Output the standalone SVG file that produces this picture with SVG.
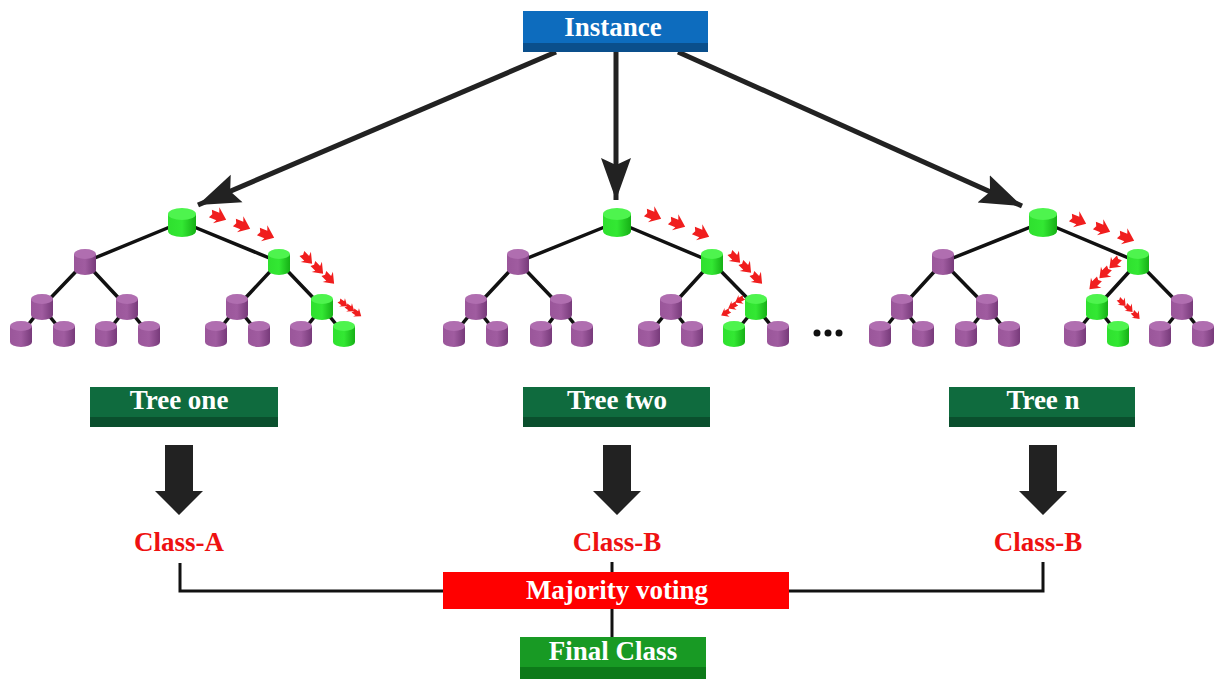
<svg xmlns="http://www.w3.org/2000/svg" xmlns:xlink="http://www.w3.org/1999/xlink" width="1215" height="679" viewBox="0 0 1215 679">
<style>
.lbl{font-family:"Liberation Serif","Times New Roman",serif;font-weight:bold;font-size:27px;fill:#ffffff;text-anchor:middle}
.cls{font-family:"Liberation Serif","Times New Roman",serif;font-weight:bold;font-size:27px;fill:#ee1111;text-anchor:middle}
.edge{stroke:#111;stroke-width:3.5;fill:none}
.conn{stroke:#111;stroke-width:3;fill:none}
.big{stroke:#222;stroke-width:5;fill:none}
.down{fill:#222}
</style>
<defs>
<linearGradient id="gp" x1="0" x2="1" y1="0" y2="0">
<stop offset="0" stop-color="#9a569a"/><stop offset="0.5" stop-color="#a05ca0"/><stop offset="1" stop-color="#773a7a"/>
</linearGradient>
<linearGradient id="gg" x1="0" x2="1" y1="0" y2="0">
<stop offset="0" stop-color="#2fe02f"/><stop offset="0.5" stop-color="#33e833"/><stop offset="1" stop-color="#16b016"/>
</linearGradient>
<g id="pc">
<path d="M-11,-8 L-11,8 A11,5 0 0 0 11,8 L11,-8 Z" fill="url(#gp)"/>
<ellipse cx="0" cy="-8" rx="11" ry="5" fill="#b06eb0"/>
</g>
<g id="gc">
<path d="M-11,-8 L-11,8 A11,5 0 0 0 11,8 L11,-8 Z" fill="url(#gg)"/>
<ellipse cx="0" cy="-8" rx="11" ry="5" fill="#4ef44e"/>
</g>
<g id="gcb">
<path d="M-14,-8 L-14,9 A14,6 0 0 0 14,9 L14,-8 Z" fill="url(#gg)"/>
<ellipse cx="0" cy="-8" rx="14" ry="6" fill="#4ef44e"/>
</g>
<path id="ra" d="M-8,-3.5 L0,-3.5 L-2,-8.5 L9,0.5 L-2,8.5 L0,4.5 L-8,4.5 L-6,0.5 Z" fill="#f01e1e"/>
<marker id="ah" markerUnits="userSpaceOnUse" markerWidth="44" markerHeight="34" refX="42" refY="17" orient="auto" viewBox="0 0 44 34">
<path d="M0,2 L42,17 L0,32 L7,17 Z" fill="#222"/>
</marker>
</defs>
<rect width="1215" height="679" fill="#ffffff"/>

<g id="connectors">
<line class="big" x1="556" y1="52" x2="198" y2="205" marker-end="url(#ah)"/>
<line class="big" x1="616" y1="52" x2="616" y2="200" marker-end="url(#ah)"/>
<line class="big" x1="678" y1="52" x2="1022" y2="206" marker-end="url(#ah)"/>
<path class="edge" d="M182,222 L85,262 M182,222 L279,262 M85,262 L42,307 M85,262 L127,307 M279,262 L237,307 M279,262 L322,307 M42,307 L21,334 M42,307 L64,334 M127,307 L106,334 M127,307 L149,334 M237,307 L216,334 M237,307 L259,334 M322,307 L301,334 M322,307 L344,334"/>
<path class="edge" d="M617,222 L518,262 M617,222 L712,262 M518,262 L476,307 M518,262 L561,307 M712,262 L671,307 M712,262 L756,307 M476,307 L454,334 M476,307 L497,334 M561,307 L541,334 M561,307 L582,334 M671,307 L649,334 M671,307 L692,334 M756,307 L734,334 M756,307 L778,334"/>
<path class="edge" d="M1043,222 L943,262 M1043,222 L1138,262 M943,262 L902,307 M943,262 L987,307 M1138,262 L1097,307 M1138,262 L1182,307 M902,307 L880,334 M902,307 L923,334 M987,307 L966,334 M987,307 L1009,334 M1097,307 L1075,334 M1097,307 L1118,334 M1182,307 L1160,334 M1182,307 L1203,334"/>
<polyline class="conn" points="180,563 180,591 443,591"/>
<polyline class="conn" points="1043,562 1043,591 789,591"/>
<line class="conn" x1="612" y1="562" x2="612" y2="572"/>
<line class="conn" x1="612" y1="609" x2="612" y2="637"/>
</g>

<g id="instance">
<rect x="523" y="11" width="185" height="33" fill="#0d6cbe"/>
<rect x="523" y="43" width="185" height="9" fill="#0a4f8c"/>
<text class="lbl" x="613" y="36">Instance</text>
</g>

<g id="t1-root"><use href="#gcb" x="182" y="222"/></g>
<g id="t1-a"><use href="#pc" x="85" y="262"/></g>
<g id="t1-b"><use href="#gc" x="279" y="262"/></g>
<g id="t1-aa"><use href="#pc" x="42" y="307"/></g>
<g id="t1-ab"><use href="#pc" x="127" y="307"/></g>
<g id="t1-ba"><use href="#pc" x="237" y="307"/></g>
<g id="t1-bb"><use href="#gc" x="322" y="307"/></g>
<g id="t1-l1"><use href="#pc" x="21" y="334"/></g>
<g id="t1-l2"><use href="#pc" x="64" y="334"/></g>
<g id="t1-l3"><use href="#pc" x="106" y="334"/></g>
<g id="t1-l4"><use href="#pc" x="149" y="334"/></g>
<g id="t1-l5"><use href="#pc" x="216" y="334"/></g>
<g id="t1-l6"><use href="#pc" x="259" y="334"/></g>
<g id="t1-l7"><use href="#pc" x="301" y="334"/></g>
<g id="t1-l8"><use href="#gc" x="344" y="334"/></g>
<g id="t1-path">
<use href="#ra" transform="translate(218,216) rotate(22)"/>
<use href="#ra" transform="translate(242,225) rotate(22)"/>
<use href="#ra" transform="translate(266,234) rotate(22)"/>
<use href="#ra" transform="translate(307,258) rotate(45) scale(0.85)"/>
<use href="#ra" transform="translate(318,268) rotate(45) scale(0.85)"/>
<use href="#ra" transform="translate(329,278) rotate(45) scale(0.85)"/>
<use href="#ra" transform="translate(343,303) rotate(35) scale(0.6)"/>
<use href="#ra" transform="translate(350,308) rotate(35) scale(0.6)"/>
<use href="#ra" transform="translate(357,313) rotate(35) scale(0.6)"/>
</g>

<g id="t2-root"><use href="#gcb" x="617" y="222"/></g>
<g id="t2-a"><use href="#pc" x="518" y="262"/></g>
<g id="t2-b"><use href="#gc" x="712" y="262"/></g>
<g id="t2-aa"><use href="#pc" x="476" y="307"/></g>
<g id="t2-ab"><use href="#pc" x="561" y="307"/></g>
<g id="t2-ba"><use href="#pc" x="671" y="307"/></g>
<g id="t2-bb"><use href="#gc" x="756" y="307"/></g>
<g id="t2-l1"><use href="#pc" x="454" y="334"/></g>
<g id="t2-l2"><use href="#pc" x="497" y="334"/></g>
<g id="t2-l3"><use href="#pc" x="541" y="334"/></g>
<g id="t2-l4"><use href="#pc" x="582" y="334"/></g>
<g id="t2-l5"><use href="#pc" x="649" y="334"/></g>
<g id="t2-l6"><use href="#pc" x="692" y="334"/></g>
<g id="t2-l7"><use href="#gc" x="734" y="334"/></g>
<g id="t2-l8"><use href="#pc" x="778" y="334"/></g>
<g id="t2-path">
<use href="#ra" transform="translate(653,215) rotate(22)"/>
<use href="#ra" transform="translate(677,223) rotate(22)"/>
<use href="#ra" transform="translate(701,233) rotate(22)"/>
<use href="#ra" transform="translate(735,257) rotate(45) scale(0.85)"/>
<use href="#ra" transform="translate(746,267) rotate(45) scale(0.85)"/>
<use href="#ra" transform="translate(757,278) rotate(45) scale(0.85)"/>
<use href="#ra" transform="translate(740,300) rotate(150) scale(0.6)"/>
<use href="#ra" transform="translate(733,306) rotate(150) scale(0.6)"/>
<use href="#ra" transform="translate(726,313) rotate(150) scale(0.6)"/>
</g>

<g id="ellipsis">
<circle cx="817" cy="333" r="3.5" fill="#111"/>
<circle cx="828" cy="333" r="3.5" fill="#111"/>
<circle cx="839" cy="333" r="3.5" fill="#111"/>
</g>

<g id="tn-root"><use href="#gcb" x="1043" y="222"/></g>
<g id="tn-a"><use href="#pc" x="943" y="262"/></g>
<g id="tn-b"><use href="#gc" x="1138" y="262"/></g>
<g id="tn-aa"><use href="#pc" x="902" y="307"/></g>
<g id="tn-ab"><use href="#pc" x="987" y="307"/></g>
<g id="tn-ba"><use href="#gc" x="1097" y="307"/></g>
<g id="tn-bb"><use href="#pc" x="1182" y="307"/></g>
<g id="tn-l1"><use href="#pc" x="880" y="334"/></g>
<g id="tn-l2"><use href="#pc" x="923" y="334"/></g>
<g id="tn-l3"><use href="#pc" x="966" y="334"/></g>
<g id="tn-l4"><use href="#pc" x="1009" y="334"/></g>
<g id="tn-l5"><use href="#pc" x="1075" y="334"/></g>
<g id="tn-l6"><use href="#gc" x="1118" y="334"/></g>
<g id="tn-l7"><use href="#pc" x="1160" y="334"/></g>
<g id="tn-l8"><use href="#pc" x="1203" y="334"/></g>
<g id="tn-path">
<use href="#ra" transform="translate(1078,220) rotate(22)"/>
<use href="#ra" transform="translate(1102,228) rotate(22)"/>
<use href="#ra" transform="translate(1126,237) rotate(22)"/>
<use href="#ra" transform="translate(1115,263) rotate(134) scale(0.85)"/>
<use href="#ra" transform="translate(1105,273) rotate(134) scale(0.85)"/>
<use href="#ra" transform="translate(1095,284) rotate(134) scale(0.85)"/>
<use href="#ra" transform="translate(1122,302) rotate(45) scale(0.6)"/>
<use href="#ra" transform="translate(1129,308) rotate(45) scale(0.6)"/>
<use href="#ra" transform="translate(1136,315) rotate(45) scale(0.6)"/>
</g>

<g id="tree-one">
<rect x="90" y="387" width="188" height="31" fill="#0f6b3e"/>
<rect x="90" y="417" width="188" height="10" fill="#0a4f2d"/>
<text class="lbl" x="179" y="409">Tree one</text>
</g>
<g id="tree-two">
<rect x="523" y="387" width="187" height="31" fill="#0f6b3e"/>
<rect x="523" y="417" width="187" height="10" fill="#0a4f2d"/>
<text class="lbl" x="617" y="409">Tree two</text>
</g>
<g id="tree-n">
<rect x="949" y="387" width="186" height="31" fill="#0f6b3e"/>
<rect x="949" y="417" width="186" height="10" fill="#0a4f2d"/>
<text class="lbl" x="1043" y="409">Tree n</text>
</g>

<g id="down-arrows">
<polygon class="down" points="165,445 193,445 193,491 203,491 179,515 155,491 165,491"/>
<polygon class="down" points="603,445 631,445 631,491 641,491 617,515 593,491 603,491"/>
<polygon class="down" points="1029,445 1057,445 1057,491 1067,491 1043,515 1019,491 1029,491"/>
</g>

<g id="class-a"><text class="cls" x="179" y="551">Class-A</text></g>
<g id="class-b1"><text class="cls" x="617" y="551">Class-B</text></g>
<g id="class-b2"><text class="cls" x="1038" y="551">Class-B</text></g>

<g id="majority">
<rect x="443" y="572" width="346" height="37" fill="#ff0000"/>
<text class="lbl" x="617" y="599">Majority voting</text>
</g>

<g id="final">
<rect x="520" y="637" width="186" height="31" fill="#189a24"/>
<rect x="520" y="667" width="186" height="12" fill="#0d7a19"/>
<text class="lbl" x="613" y="660">Final Class</text>
</g>
</svg>
